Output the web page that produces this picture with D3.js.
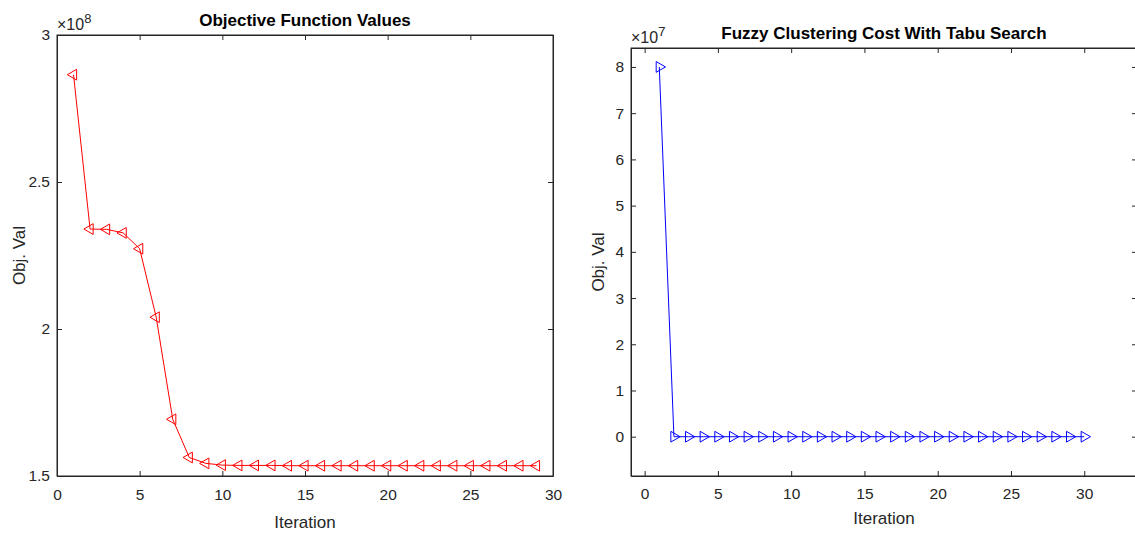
<!DOCTYPE html>
<html lang="en">
<head>
    <meta charset="UTF-8">
    <title>Objective Function Values / Fuzzy Clustering Cost</title>
    <script src="https://d3js.org/d3.v7.min.js"></script>
    <style>
        body { margin: 0; background: #fff; }
        svg { display: block; font-family: "Liberation Sans", Arial, sans-serif; }
        .axis path, .axis line { stroke: #262626; }
        .axis text { fill: #262626; font-size: 15.5px; font-family: "Liberation Sans", Arial, sans-serif; }
    </style>
</head>
<body>
    <div id="chart"></div>

    <script>
        // Left plot: objective value per iteration (x 1e8)
        const leftIter = [1, 2, 3, 4, 5, 6, 7, 8, 9, 10, 11, 12, 13, 14, 15, 16, 17, 18, 19, 20,
                          21, 22, 23, 24, 25, 26, 27, 28, 29];
        const leftVals = [2.865, 2.340, 2.339, 2.327, 2.273, 2.040, 1.693, 1.563, 1.543, 1.537,
                          1.536, 1.536, 1.536, 1.535, 1.535, 1.535, 1.535, 1.535, 1.535, 1.535,
                          1.535, 1.535, 1.535, 1.535, 1.535, 1.535, 1.535, 1.535, 1.535];
        const leftYTicks = [1.5, 2, 2.5, 3];
        const leftXTicks = [0, 5, 10, 15, 20, 25, 30];

        // Right plot: tabu search cost per iteration (x 1e7)
        const rightIter = [1, 2, 3, 4, 5, 6, 7, 8, 9, 10, 11, 12, 13, 14, 15, 16, 17, 18, 19, 20,
                           21, 22, 23, 24, 25, 26, 27, 28, 29, 30];
        const rightVals = [8, 0, 0, 0, 0, 0, 0, 0, 0, 0, 0, 0, 0, 0, 0, 0, 0, 0, 0, 0,
                           0, 0, 0, 0, 0, 0, 0, 0, 0, 0];
        const rightYTicks = [0, 1, 2, 3, 4, 5, 6, 7, 8];
        const rightXTicks = [0, 5, 10, 15, 20, 25, 30];

        const W = 1135, H = 533;
        const svg = d3.select('#chart').append('svg')
            .attr('width', W)
            .attr('height', H);

        function drawPanel(opt) {
            const x = d3.scaleLinear().domain(opt.xDomain).range([opt.left, opt.right]);
            const y = d3.scaleLinear().domain(opt.yDomain).range([opt.bottom, opt.top]);
            const g = svg.append('g');

            // box ticks pointing inward on all four sides
            g.append('g').attr('class', 'axis')
                .attr('transform', `translate(0,${opt.bottom})`)
                .call(d3.axisBottom(x).tickValues(opt.xTicks).tickSizeInner(-5).tickSizeOuter(0).tickPadding(opt.xPad).tickFormat(d3.format('d')));
            g.append('g').attr('class', 'axis')
                .attr('transform', `translate(0,${opt.top})`)
                .call(d3.axisTop(x).tickValues(opt.xTicks).tickSizeInner(-5).tickSizeOuter(0).tickFormat(''));
            g.append('g').attr('class', 'axis')
                .attr('transform', `translate(${opt.left},0)`)
                .call(d3.axisLeft(y).tickValues(opt.yTicks).tickSizeInner(-5).tickSizeOuter(0).tickPadding(7).tickFormat(d3.format('')));
            g.append('g').attr('class', 'axis')
                .attr('transform', `translate(${opt.right},0)`)
                .call(d3.axisRight(y).tickValues(opt.yTicks).tickSizeInner(-5).tickSizeOuter(0).tickFormat(''));

            g.append('rect')
                .attr('x', opt.left).attr('y', opt.top)
                .attr('width', opt.right - opt.left).attr('height', opt.bottom - opt.top)
                .attr('fill', 'none').attr('stroke', '#262626').attr('stroke-width', 1);

            const pts = opt.xs.map((d, i) => [d, opt.ys[i]]);
            const line = d3.line().x(d => x(d[0])).y(d => y(d[1]));
            g.append('path')
                .datum(pts)
                .attr('d', line)
                .attr('fill', 'none')
                .attr('stroke', opt.color)
                .attr('stroke-width', 1);

            const sym = d3.symbol().type(d3.symbolTriangle).size(50);
            g.selectAll('.mk').data(pts).join('path')
                .attr('class', 'mk')
                .attr('d', sym)
                .attr('transform', d => `translate(${x(d[0])},${y(d[1])}) rotate(${opt.rot})`)
                .attr('fill', 'none')
                .attr('stroke', opt.color)
                .attr('stroke-width', 1);

            // exponent label
            const ex = g.append('text')
                .attr('x', opt.expX).attr('y', opt.expY)
                .attr('fill', '#262626').style('font-size', '16px');
            ex.append('tspan').text('\u00d710');
            ex.append('tspan').attr('dy', -7).style('font-size', '13px').text(opt.exp);

            g.append('text')
                .attr('x', (opt.left + opt.right) / 2).attr('y', opt.titleY)
                .attr('text-anchor', 'middle')
                .attr('fill', '#000')
                .style('font-size', '17px').style('font-weight', 'bold')
                .text(opt.title);

            g.append('text')
                .attr('x', (opt.left + opt.right) / 2).attr('y', opt.xLabelY)
                .attr('text-anchor', 'middle')
                .attr('fill', '#262626')
                .style('font-size', '17px')
                .text('Iteration');

            g.append('text')
                .attr('transform', `translate(${opt.yLabelX},${(opt.top + opt.bottom) / 2}) rotate(-90)`)
                .attr('text-anchor', 'middle')
                .attr('fill', '#262626')
                .style('font-size', '17px')
                .text('Obj. Val');
        }

        drawPanel({
            xs: leftIter, ys: leftVals, xTicks: leftXTicks, yTicks: leftYTicks,
            xDomain: [0, 30], yDomain: [1.5, 3],
            left: 57, right: 553, top: 35, bottom: 476,
            color: '#ff0000', rot: -90, xPad: 13,
            exp: '8', expX: 57, expY: 30,
            title: 'Objective Function Values', titleY: 26,
            xLabelY: 528, yLabelX: 25
        });

        drawPanel({
            xs: rightIter, ys: rightVals, xTicks: rightXTicks, yTicks: rightYTicks,
            xDomain: [-0.93, 33.6], yDomain: [-0.85, 8.41],
            left: 631, right: 1137, top: 48, bottom: 476,
            color: '#0000ff', rot: 90, xPad: 12,
            exp: '7', expX: 631, expY: 43,
            title: 'Fuzzy Clustering Cost With Tabu Search', titleY: 39,
            xLabelY: 524, yLabelX: 604
        });
    </script>
</body>
</html>
